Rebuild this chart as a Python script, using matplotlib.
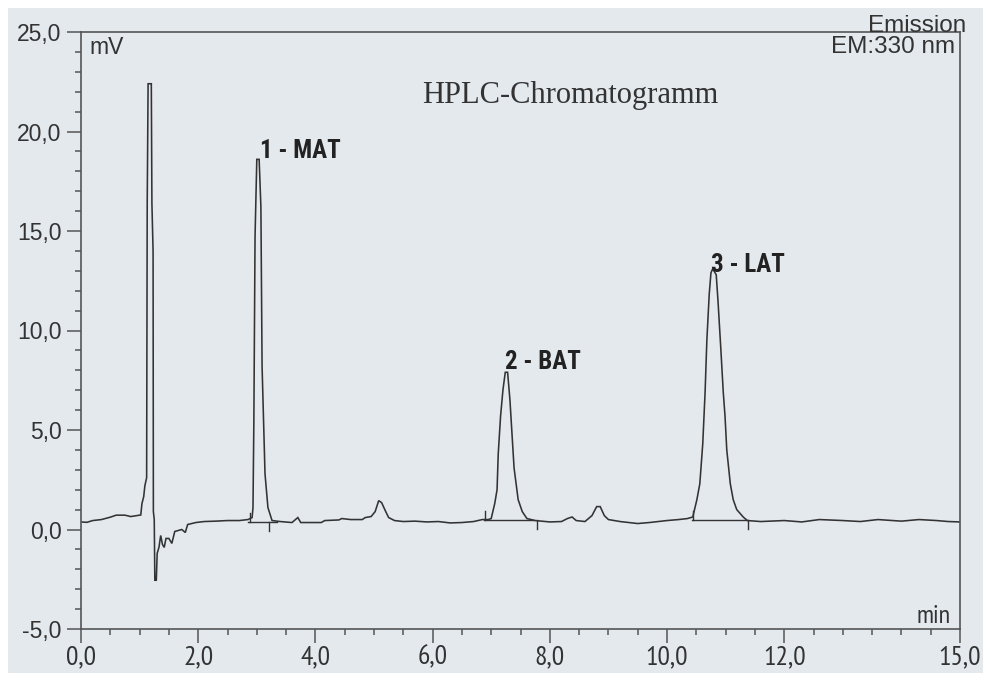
import matplotlib
matplotlib.use("Agg")
import matplotlib.pyplot as plt
from matplotlib import font_manager
from matplotlib.patches import Rectangle
from matplotlib.ticker import MultipleLocator, FixedLocator, FuncFormatter

# ---- data ----
time_min = [0.0, 0.1, 0.2, 0.35, 0.5, 0.6, 0.75, 0.85, 1.02, 1.04, 1.07, 1.09, 1.12,
            1.13, 1.145, 1.2, 1.21, 1.22, 1.23, 1.235, 1.25, 1.26, 1.285, 1.3, 1.33,
            1.36, 1.39, 1.42, 1.45, 1.5, 1.55, 1.6, 1.72, 1.78, 1.82, 1.96, 2.1, 2.3,
            2.5, 2.7, 2.85, 2.92, 2.935, 2.95, 2.97, 3.0, 3.04, 3.07, 3.09, 3.14, 3.19,
            3.26, 3.4, 3.6, 3.66, 3.7, 3.75, 4.1, 4.16, 4.4, 4.45, 4.6, 4.8, 4.85, 4.95,
            5.02, 5.08, 5.13, 5.2, 5.25, 5.35, 5.5, 5.7, 5.9, 6.1, 6.3, 6.5, 6.7, 6.85,
            6.95, 7.0, 7.06, 7.1, 7.12, 7.16, 7.2, 7.24, 7.28, 7.32, 7.39, 7.46, 7.53,
            7.61, 7.75, 8.0, 8.2, 8.3, 8.38, 8.45, 8.6, 8.72, 8.8, 8.86, 8.93, 9.0, 9.2,
            9.5, 9.7, 10.0, 10.2, 10.35, 10.44, 10.51, 10.56, 10.61, 10.65, 10.68, 10.72,
            10.75, 10.78, 10.84, 10.87, 10.92, 10.96, 10.99, 11.02, 11.08, 11.13, 11.19,
            11.3, 11.37, 11.6, 12.0, 12.3, 12.6, 13.0, 13.3, 13.6, 14.0, 14.3, 14.6,
            14.8, 15.0]
signal_mv = [0.38, 0.36, 0.45, 0.5, 0.62, 0.72, 0.72, 0.65, 0.73, 1.3, 1.65, 2.2, 2.6,
             16.4, 22.4, 22.4, 16.4, 15.3, 14.0, 0.9, 0.5, -2.55, -2.55, -1.2, -0.9,
             -0.3, -0.75, -0.9, -0.45, -0.45, -0.7, -0.1, 0.0, -0.15, 0.25, 0.35, 0.4, 0.42,
             0.45, 0.45, 0.5, 0.6, 1.1, 5.5, 14.7, 18.6, 18.6, 16.2, 8.2, 2.8, 1.1,
             0.45, 0.4, 0.35, 0.5, 0.6, 0.35, 0.35, 0.45, 0.48, 0.55, 0.5, 0.5, 0.6, 0.65,
             0.9, 1.45, 1.35, 0.9, 0.6, 0.45, 0.4, 0.42, 0.38, 0.4, 0.33, 0.35, 0.4, 0.5,
             0.5, 0.55, 1.3, 2.0, 3.8, 5.7, 7.0, 7.9, 7.9, 6.5, 3.1, 1.5, 0.9,
             0.55, 0.45, 0.38, 0.4, 0.55, 0.63, 0.45, 0.4, 0.7, 1.15, 1.15, 0.7, 0.5, 0.4,
             0.3, 0.35, 0.45, 0.5, 0.55, 0.63, 1.5, 2.3, 4.3, 6.9, 9.5, 11.8,
             12.9, 13.1, 12.8, 11.5, 9.0, 6.9, 5.7, 4.0, 2.3, 1.5, 1.0,
             0.63, 0.45, 0.4, 0.45, 0.38, 0.5, 0.45, 0.4, 0.5, 0.42, 0.5, 0.45,
             0.4, 0.38]

peak_labels = ["1 - MAT", "2 - BAT", "3 - LAT"]
label_time = [3.05, 7.24, 10.75]
label_mv = [19.0, 8.4, 13.3]
# integration baselines: start time, end time, level, start-mark time, end-mark time
base_start = [2.85, 6.88, 10.42]
base_end = [3.34, 7.73, 11.37]
base_level = [0.38, 0.48, 0.48]
mark_start = [2.88, 6.90, 10.44]
mark_end = [3.20, 7.78, 11.39]

y_major = [-5, 0, 5, 10, 15, 20, 25]
x_major = [0, 2, 4, 6, 8, 10, 12, 15]

# ---- fonts ----
def pick(cands, default):
    for name in cands:
        try:
            font_manager.findfont(font_manager.FontProperties(family=name), fallback_to_default=False)
            return name
        except Exception:
            pass
    return default

SANS = pick(["Liberation Sans", "Arimo"], "DejaVu Sans")
NARROW = pick(["PT Sans Narrow", "Archivo Narrow", "Roboto Condensed"], SANS)
COND = pick(["Roboto Condensed", "PT Sans Narrow"], SANS)
SERIF = pick(["Liberation Serif"], "DejaVu Serif")

W, H = 983, 673
fig = plt.figure(figsize=(W / 100, H / 100), dpi=100)
fig.patch.set_facecolor("white")
fig.patches.append(Rectangle((8 / W, 0), 1 - 8 / W, 1 - 8 / H, transform=fig.transFigure,
                             facecolor="#e4e9ee", edgecolor="none", zorder=-10))

L, R, T, B = 81, 960, 32, 629
ax = fig.add_axes([L / W, 1 - B / H, (R - L) / W, (B - T) / H])
ax.set_zorder(1)
ax.set_facecolor("#e4e9ee")
ax.set_xlim(0, 15)
ax.set_ylim(-5, 25)

line_c = "#333333"
ax.plot(time_min, signal_mv, color=line_c, lw=1.15, solid_joinstyle="miter")

for s, e, lv, ms, me in zip(base_start, base_end, base_level, mark_start, mark_end):
    ax.plot([s, e], [lv, lv], color=line_c, lw=1.0)
    ax.plot([ms, ms], [lv, lv + 0.45], color=line_c, lw=1.0)
    ax.plot([me, me], [lv, lv - 0.45], color=line_c, lw=1.0)

for txt, t, v in zip(peak_labels, label_time, label_mv):
    ax.text(t, v, txt, ha="left", va="center", fontsize=18, fontweight="bold",
            family=COND, color="#222222")

for sp in ax.spines.values():
    sp.set_color("#555555")
    sp.set_linewidth(1.2)

ax.yaxis.set_major_locator(FixedLocator(y_major))
ax.yaxis.set_minor_locator(MultipleLocator(1))
ax.xaxis.set_major_locator(FixedLocator(x_major))
ax.xaxis.set_minor_locator(MultipleLocator(0.5))
fmt = FuncFormatter(lambda v, p: f"{v:.1f}".replace(".", ","))
ax.xaxis.set_major_formatter(fmt)
ax.yaxis.set_major_formatter(fmt)
ax.tick_params(axis="both", which="major", direction="out", length=10, width=1.1,
               color="#555555", labelcolor="#333333")
ax.tick_params(axis="both", which="minor", direction="out", length=4, width=1.1,
               color="#555555")
ax.tick_params(axis="y", which="major", labelsize=16.5, pad=4)
ax.tick_params(axis="x", which="major", labelsize=20, pad=2)
for lab in ax.get_yticklabels():
    lab.set_family(SANS)
for lab in ax.get_xticklabels():
    lab.set_family(NARROW)

def fx(px):
    return px / W

def fy(py):
    return 1 - py / H

fig.text(fx(89), fy(47), "mV", ha="left", va="center", fontsize=16.5, family=SANS, color="#333333", zorder=5)
fig.text(fx(955), fy(47), "EM:330 nm", ha="right", va="center", fontsize=17.5, family=SANS, color="#333333", zorder=5)
fig.text(fx(966), fy(32), "Emission", ha="right", va="baseline", fontsize=17.5, family=SANS, color="#333333", zorder=5)
fig.text(fx(951), fy(623), "min", ha="right", va="baseline", fontsize=19, family=NARROW, color="#333333", zorder=5)
fig.text(fx(570), fy(95), "HPLC-Chromatogramm", ha="center", va="center", fontsize=22,
         family=SERIF, color="#333333", zorder=5)

fig.savefig("out.png", dpi=100, facecolor=fig.get_facecolor())
